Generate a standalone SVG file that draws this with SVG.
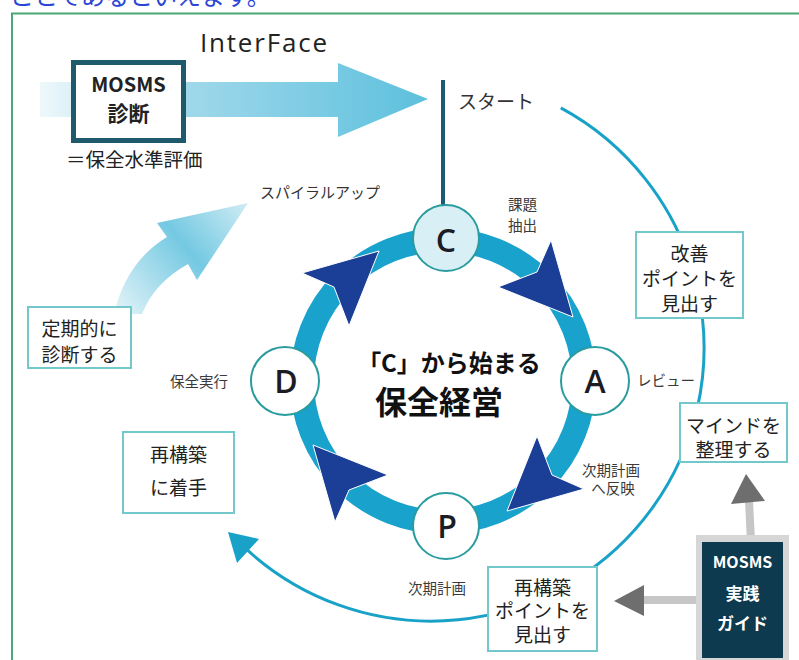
<svg xmlns="http://www.w3.org/2000/svg" width="799" height="660" viewBox="0 0 799 660">
<defs>
<style>
.jp{font-family:"Noto Sans CJK JP","Noto Sans",sans-serif}
.ring{fill:none;stroke:#19a2cc;stroke-width:24}
.spiral{fill:none;stroke:#19a2c8;stroke-width:3}
.node circle{stroke:#2a9c9f;stroke-width:2}
.letter{font-family:"Open Sans","Noto Sans",sans-serif;font-size:32px;font-weight:600;fill:#1c1c24;text-anchor:middle}
.box rect{fill:#fff;stroke:#73c8cb;stroke-width:2}
.lbl{font-size:19px;fill:#222;text-anchor:middle}
.small{font-size:14.5px;fill:#3a3a3a}
.dart{fill:#1b3f97;stroke:#fff;stroke-width:1}
.gstem{stroke:#c6c6c6;stroke-width:8;fill:none}
.ghead{fill:#6e6e6e}
</style>
<linearGradient id="gTop" x1="40" y1="0" x2="430" y2="0" gradientUnits="userSpaceOnUse">
<stop offset="0" stop-color="#eef8fb"/>
<stop offset="0.35" stop-color="#a3d9eb"/>
<stop offset="1" stop-color="#5cc0dd"/>
</linearGradient>
<linearGradient id="gSpiral" x1="120" y1="315" x2="250" y2="203" gradientUnits="userSpaceOnUse">
<stop offset="0" stop-color="#e2f3f8"/>
<stop offset="0.55" stop-color="#74c9e2"/>
<stop offset="1" stop-color="#d2edf5"/>
</linearGradient>
<polygon id="dart" points="130,-64 108,-141 94,-109 55,-94"/>
</defs>

<rect width="799" height="660" fill="#fff"/>
<text class="jp" x="10" y="5" font-size="24" fill="#2b45d6">ことであるといえます。</text>
<rect x="12" y="13.5" width="800" height="660" fill="none" stroke="#4aa874" stroke-width="2"/>

<g id="interface">
<polygon points="40,82 338,82 338,63 428,99 338,137 338,117 40,117" fill="url(#gTop)"/>
<text x="200" y="52" font-family="'Open Sans','Noto Sans',sans-serif" font-size="26" letter-spacing="1.8" fill="#222">InterFace</text>
</g>

<g id="mosms-diag">
<rect x="73.5" y="62.5" width="110" height="78" fill="#fff" stroke="#1e5a6c" stroke-width="5"/>
<text class="jp" x="128.5" y="92" font-size="20" font-weight="700" fill="#222" text-anchor="middle">MOSMS</text>
<text class="jp" x="128.5" y="121" font-size="21" font-weight="700" fill="#222" text-anchor="middle">診断</text>
<text class="jp" x="66" y="167" font-size="19.5" fill="#222">＝保全水準評価</text>
</g>

<g id="spiralup">
<path d="M114,314 Q126,262 167,237 L157,223 L248,203 L197,280 L188,264 Q154,283 142,314 Z" fill="url(#gSpiral)"/>
<text class="jp" x="260" y="198" font-size="15" fill="#333">スパイラルアップ</text>
</g>

<g id="connectors">
<line x1="443" y1="80" x2="443" y2="210" stroke="#1a5b70" stroke-width="4"/>
<path class="spiral" d="M560.8,107.9 A273,273 0 1 1 244.8,547.7"/>
<polygon points="228,532 259,539 237,563" fill="#19a2c8"/>
<circle class="ring" cx="443" cy="381" r="141"/>
<use href="#dart" class="dart" transform="translate(443 381)"/>
<use href="#dart" class="dart" transform="translate(443 381) rotate(90)"/>
<use href="#dart" class="dart" transform="translate(443 381) rotate(180)"/>
<use href="#dart" class="dart" transform="translate(443 381) rotate(270)"/>
<line class="gstem" x1="751" y1="542" x2="749" y2="500"/>
<polygon class="ghead" points="746,474 731,504 765,501"/>
<line class="gstem" x1="700" y1="600" x2="640" y2="600"/>
<polygon class="ghead" points="614,601 644,585 644,616"/>
</g>

<text class="jp" x="458" y="109" font-size="19" fill="#333">スタート</text>

<g id="node-c" class="node">
<circle cx="446" cy="238" r="33" fill="#d8eff5"/>
<text x="446" y="252" class="letter" font-size="38" font-weight="700">C</text>
</g>
<g id="node-a" class="node">
<circle cx="595" cy="381" r="34" fill="#fff"/>
<text x="595" y="393" class="letter">A</text>
</g>
<g id="node-p" class="node">
<circle cx="446" cy="526" r="33" fill="#fff"/>
<text x="447" y="538" class="letter">P</text>
</g>
<g id="node-d" class="node">
<circle cx="285" cy="381" r="34" fill="#fff"/>
<text x="286" y="393" class="letter">D</text>
</g>

<g id="center-title" class="jp" text-anchor="middle" fill="#111" font-weight="700">
<text x="449" y="372" font-size="24">「C」から始まる</text>
<text x="439" y="414" font-size="32">保全経営</text>
</g>

<g id="labels" class="jp">
<text class="small" x="508" y="210">課題</text>
<text class="small" x="508" y="231">抽出</text>
<text class="small" x="637" y="386">レビュー</text>
<text class="small" x="611" y="476" text-anchor="middle" fill="#666">次期計画</text>
<text class="small" x="613" y="494" text-anchor="middle" fill="#666">へ反映</text>
<text class="small" x="408" y="594">次期計画</text>
<text class="small" x="170" y="387">保全実行</text>
</g>

<g id="box-kaizen" class="box jp">
<rect x="636" y="232" width="107" height="86"/>
<text class="lbl" x="689.5" y="261">改善</text>
<text class="lbl" x="689.5" y="286">ポイントを</text>
<text class="lbl" x="689.5" y="311">見出す</text>
</g>
<g id="box-mind" class="box jp">
<rect x="680" y="403" width="107" height="59"/>
<text class="lbl" x="733.5" y="433">マインドを</text>
<text class="lbl" x="733.5" y="457">整理する</text>
</g>
<g id="box-point" class="box jp">
<rect x="488" y="567" width="109" height="84"/>
<text class="lbl" x="542.5" y="595">再構築</text>
<text class="lbl" x="542.5" y="618">ポイントを</text>
<text class="lbl" x="542.5" y="642">見出す</text>
</g>
<g id="box-rebuild" class="box jp">
<rect x="123" y="432" width="111" height="81"/>
<text class="lbl" x="178.5" y="462">再構築</text>
<text class="lbl" x="178.5" y="495">に着手</text>
</g>
<g id="box-periodic" class="box jp">
<rect x="28" y="307" width="103" height="61"/>
<text class="lbl" x="79.5" y="336">定期的に</text>
<text class="lbl" x="79.5" y="362">診断する</text>
</g>

<g id="guide" class="jp">
<rect x="696" y="535" width="93" height="128" fill="#d6d6d6"/>
<rect x="702" y="542" width="81" height="116" fill="#0d3a4e"/>
<text x="742.5" y="568" font-size="16" font-weight="700" fill="#fff" text-anchor="middle">MOSMS</text>
<text x="742.5" y="600" font-size="17" font-weight="700" fill="#fff" text-anchor="middle">実践</text>
<text x="742.5" y="630" font-size="17" font-weight="700" fill="#fff" text-anchor="middle">ガイド</text>
</g>
</svg>
